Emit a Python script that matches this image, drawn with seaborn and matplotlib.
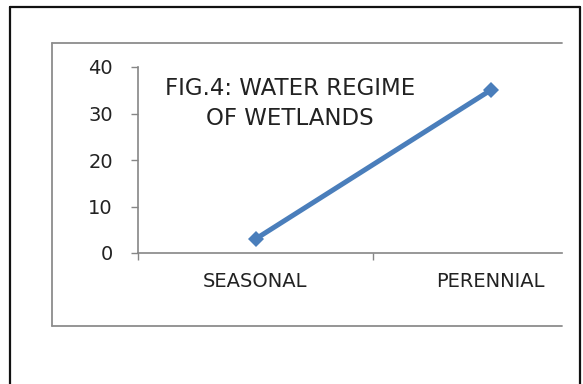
import matplotlib
matplotlib.use("Agg")
import matplotlib.pyplot as plt
from matplotlib.lines import Line2D
from matplotlib.ticker import FixedLocator, NullFormatter, FixedFormatter
import seaborn as sns
import pandas as pd

# Water regime categories and the share of wetlands in each
categories = ["SEASONAL", "PERENNIAL"]
values = [3, 35]
y_ticks = [0, 10, 20, 30, 40]
title = "FIG.4: WATER REGIME\nOF WETLANDS"

sns.set_style("white")
plt.rcParams["font.family"] = ["DejaVu Sans"]

W, H = 583, 384
fig = plt.figure(figsize=(W / 100, H / 100), dpi=100)

def px(x, y):
    return x / W, 1 - y / H

# plot area
l, t = px(138, 67)
r, b = px(562, 253)
ax = fig.add_axes([l, b, r - l, t - b])

df = pd.DataFrame({"regime": categories, "value": values})
sns.lineplot(data=df, x="regime", y="value", ax=ax, color="#4a7ebb",
             linewidth=3.6, marker="D", markersize=8, markeredgewidth=0,
             clip_on=False)

ax.set_ylim(0, 40)
ax.set_xlim(-0.5, -0.5 + (562 - 138) / 235)
ax.set_xlabel("")
ax.set_ylabel("")

# y axis
ax.yaxis.set_major_locator(FixedLocator(y_ticks))
ax.set_yticklabels([str(v) for v in y_ticks])
ax.tick_params(axis="y", which="major", left=True, length=5, width=1,
               color="#868686", labelsize=14, labelcolor="#222222", pad=13)

# x axis: boundary ticks between categories, labels centred on categories
ax.xaxis.set_major_locator(FixedLocator([-0.5, 0.5]))
ax.xaxis.set_major_formatter(NullFormatter())
ax.xaxis.set_minor_locator(FixedLocator([0, 1]))
ax.xaxis.set_minor_formatter(FixedFormatter(categories))
ax.tick_params(axis="x", which="major", bottom=True, length=5, width=1,
               color="#868686")
ax.tick_params(axis="x", which="minor", bottom=False, length=0,
               labelsize=14, labelcolor="#222222", pad=14)

for side in ("top", "right"):
    ax.spines[side].set_visible(False)
for side in ("left", "bottom"):
    ax.spines[side].set_color("#868686")
    ax.spines[side].set_linewidth(1.2)
ax.grid(False)

fig.text(*px(290, 103.5), title, ha="center", va="center",
         multialignment="center", fontsize=16.5, color="#222222",
         linespacing=1.37)

# chart frame (grey) and page frame (black)
gx0, gy0 = px(52, 43)
gx1, gy1 = px(562, 326)
frame_grey = dict(color="#8c8c8c", linewidth=1.3, transform=fig.transFigure)
fig.add_artist(Line2D([gx0, gx1], [gy0, gy0], **frame_grey))
fig.add_artist(Line2D([gx0, gx1], [gy1, gy1], **frame_grey))
fig.add_artist(Line2D([gx0, gx0], [gy0, gy1], **frame_grey))

ox0, oy0 = px(10, 7)
ox1, _ = px(580, 384)
frame_black = dict(color="#111111", linewidth=1.6, transform=fig.transFigure)
fig.add_artist(Line2D([ox0, ox1], [oy0, oy0], **frame_black))
fig.add_artist(Line2D([ox0, ox0], [oy0, 0], **frame_black))
fig.add_artist(Line2D([ox1, ox1], [oy0, 0], **frame_black))

fig.savefig("out.png", dpi=100, facecolor="white")
